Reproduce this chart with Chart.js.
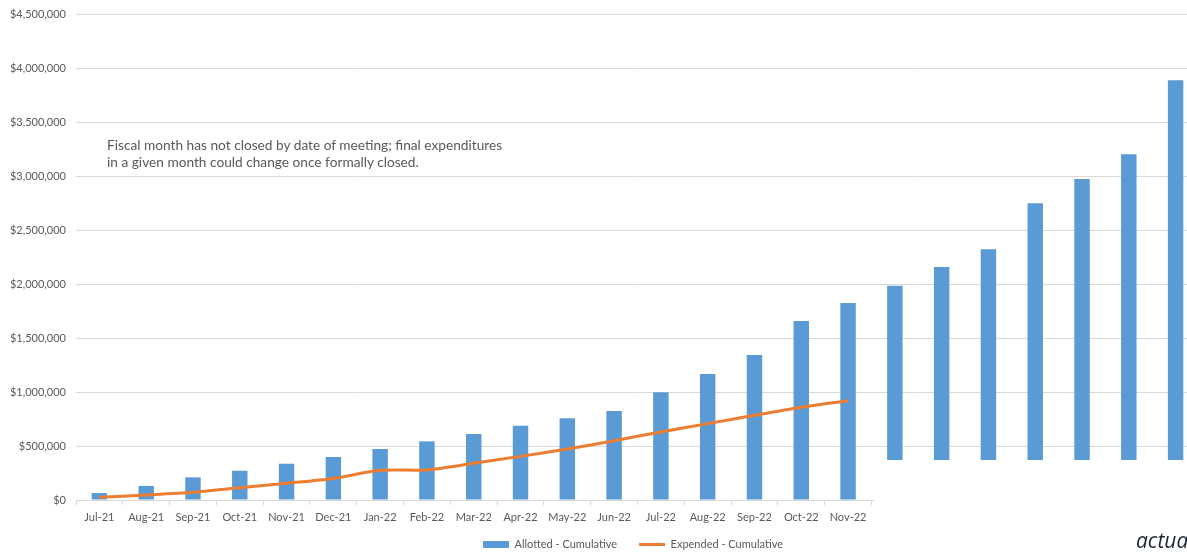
<!DOCTYPE html>
<html>
<head>
<meta charset="utf-8">
<script src="https://cdn.jsdelivr.net/npm/chart.js@4"></script>
<style>
  html, body { margin: 0; padding: 0; background: #fff; overflow: hidden; }
  #wrap { position: relative; width: 1266px; height: 552px; }
  #note {
    position: absolute; left: 107px; top: 136px;
    font-family: Lato, "Open Sans", sans-serif; font-size: 13.7px; line-height: 17px;
    color: #595959;
  }
  #logo {
    position: absolute; left: 1136px; top: 526px;
    font-family: "Open Sans", Lato, sans-serif; font-style: italic; font-size: 21px;
    color: #1c2633;
  }
</style>
</head>
<body>
<div id="wrap">
  <canvas id="chart" width="1266" height="552"></canvas>
  <div id="note">Fiscal month has not closed by date of meeting; final expenditures<br>in a given month could change once formally closed.</div>
  <div id="logo">actua</div>
</div>
<script>
// months (the last seven are projections whose lower part is masked in the original)
var months = ['Jul-21', 'Aug-21', 'Sep-21', 'Oct-21', 'Nov-21', 'Dec-21', 'Jan-22', 'Feb-22',
  'Mar-22', 'Apr-22', 'May-22', 'Jun-22', 'Jul-22', 'Aug-22', 'Sep-22', 'Oct-22', 'Nov-22',
  'Dec-22', 'Jan-23', 'Feb-23', 'Mar-23', 'Apr-23', 'May-23', 'Jun-23'];

var allotted = [65000, 130000, 210000, 271000, 336000, 398000, 472000, 543000,
  611000, 688000, 756000, 824000, 997000, 1167000, 1343000, 1657000, 1824000,
  1984000, 2157000, 2321000, 2747000, 2972000, 3201000, 3886000];

var expended = [25000, 46000, 71000, 114000, 155000, 200000, 275000, 278000,
  340000, 404000, 472000, 549000, 630000, 707000, 784000, 858000, 919000];

var yTicks = [0, 500000, 1000000, 1500000, 2000000, 2500000, 3000000, 3500000, 4000000, 4500000];

// where the white box covering the projected months starts
var lastShownIndex = 16;
var maskValue = 370000;

var fontFamily = 'Lato, "Open Sans", sans-serif';
var textGray = '#595959';
var gridGray = '#d9d9d9';

//white box over the bottom of the projected bars, like in the source slide
var maskPlugin = {
    id: 'mask',
    afterLayout: function(chart) {
        // legend is centred on the whole slide width, not just the plot
        chart.legend.left = 0;
        chart.legend.right = chart.width;
        chart.legend.top -= 10;
    },
    afterDraw: function(chart) {
        var x = chart.scales.x;
        var y = chart.scales.y;
        var half = (x.getPixelForValue(1) - x.getPixelForValue(0)) / 2;
        var left = x.getPixelForValue(lastShownIndex) + half + 3;
        var top = y.getPixelForValue(maskValue);
        var ctx = chart.ctx;
        ctx.save();
        ctx.fillStyle = '#fff';
        ctx.fillRect(left, top, chart.width - left, chart.height - top);
        ctx.restore();
    }
};

var ctx = document.getElementById('chart').getContext('2d');

var chart = new Chart(ctx, {
    type: 'bar',
    data: {
        labels: months,
        datasets: [{
            type: 'line',
            label: 'Expended - Cumulative',
            data: expended,
            borderColor: '#ED7D31',
            backgroundColor: '#ED7D31',
            borderWidth: 3,
            pointRadius: 0,
            tension: 0.25,
            order: 0
        }, {
            type: 'bar',
            label: 'Allotted - Cumulative',
            data: allotted,
            backgroundColor: '#5B9BD5',
            categoryPercentage: 1,
            barPercentage: 0.33,
            order: 1
        }]
    },
    options: {
        responsive: false,
        animation: false,
        layout: { padding: { top: 14, right: 67, left: 0, bottom: 0 } },
        plugins: {
            tooltip: { enabled: false },
            legend: {
                position: 'bottom',
                reverse: true,
                maxHeight: 25,
                labels: {
                    font: { family: fontFamily, size: 11 },
                    color: textGray,
                    usePointStyle: true,
                    pointStyleWidth: 26,
                    boxHeight: 7,
                    padding: 22,
                    generateLabels: function(chart) {
                        return chart.data.datasets.map(function(ds, i) {
                            var isLine = ds.type === 'line';
                            return {
                                text: ds.label,
                                datasetIndex: i,
                                fillStyle: ds.backgroundColor,
                                strokeStyle: isLine ? ds.borderColor : ds.backgroundColor,
                                lineWidth: isLine ? 3 : 0,
                                pointStyle: isLine ? 'line' : 'rect',
                                fontColor: textGray,
                                hidden: false
                            };
                        });
                    }
                }
            }
        },
        scales: {
            x: {
                offset: true,
                grid: {
                    offset: true,
                    drawOnChartArea: false,
                    drawTicks: true,
                    tickLength: 5,
                    color: gridGray
                },
                border: { color: gridGray },
                ticks: {
                    font: { family: fontFamily, size: 11 },
                    color: textGray,
                    maxRotation: 0,
                    autoSkip: false,
                    padding: 6
                },
                afterFit: function(scale) { scale.height = 27; }
            },
            y: {
                min: 0,
                max: 4500000,
                afterBuildTicks: function(scale) {
                    scale.ticks = yTicks.map(function(v) { return { value: v }; });
                },
                grid: { color: gridGray, drawTicks: false },
                border: { display: false },
                ticks: {
                    font: { family: fontFamily, size: 11 },
                    color: textGray,
                    padding: 10,
                    callback: function(v) { return '$' + v.toLocaleString('en-US'); }
                },
                afterFit: function(scale) {
                    scale.width = 76;
                    scale.paddingTop = 0;
                    scale.paddingBottom = 0;
                }
            }
        }
    },
    plugins: [maskPlugin]
});
</script>
</body>
</html>
